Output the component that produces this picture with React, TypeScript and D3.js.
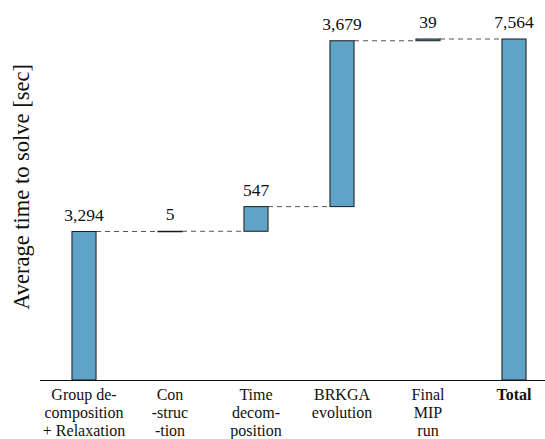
import React from "react";
import * as d3 from "d3";

const categories: string[][] = [
  ["Group de-", "composition", "+ Relaxation"],
  ["Con", "-struc", "-tion"],
  ["Time", "decom-", "position"],
  ["BRKGA", "evolution"],
  ["Final", "MIP", "run"],
  ["Total"],
];
const stepValues: number[] = [3294, 5, 547, 3679, 39];
const valueLabels: string[] = ["3,294", "5", "547", "3,679", "39", "7,564"];
const yLabel = "Average time to solve [sec]";

const W = 545;
const H = 439;
const FONT = "'Liberation Serif', serif";

export default function App() {
  const total = d3.sum(stepValues);
  let acc = 0;
  const bars = stepValues.map((v, i) => {
    const start = acc;
    acc += v;
    return { i, start, end: acc, total: false };
  });
  bars.push({ i: stepValues.length, start: 0, end: total, total: true });

  const x = d3
    .scaleBand<number>()
    .domain(d3.range(categories.length))
    .range([41, 557])
    .paddingInner(0.72)
    .paddingOuter(0.36);
  const y = d3.scaleLinear().domain([0, total]).range([380, 39]);
  const bw = x.bandwidth();
  const ts: React.CSSProperties = { fontFamily: FONT };

  return (
    <svg
      width={W}
      height={H}
      style={{ position: "absolute", left: 0, top: 0, background: "#fff" }}
    >
      {bars.slice(0, -1).map((b, k) => {
        const next = bars[k + 1];
        const yy = y(b.end);
        return (
          <line
            key={"d" + k}
            x1={(x(b.i) as number) + bw}
            x2={x(next.i) as number}
            y1={yy}
            y2={yy}
            stroke="#555"
            strokeWidth={1}
            strokeDasharray="5,4"
          />
        );
      })}
      {bars.map((b) => {
        const top = y(b.end);
        const bot = y(b.start);
        return (
          <rect
            key={"b" + b.i}
            x={x(b.i) as number}
            y={top}
            width={bw}
            height={Math.max(bot - top, 0.5)}
            fill="#5fa3c6"
            stroke="#1a1a1a"
            strokeWidth={1}
          />
        );
      })}
      {bars.map((b) => (
        <text
          key={"v" + b.i}
          x={(x(b.i) as number) + bw / 2}
          y={y(b.end) - 11}
          textAnchor="middle"
          fontSize={17.5}
          fill="#111"
          style={ts}
        >
          {valueLabels[b.i]}
        </text>
      ))}
      <line x1={40} x2={545} y1={380.5} y2={380.5} stroke="#111" strokeWidth={1.2} />
      {categories.map((lines, i) => (
        <text
          key={"c" + i}
          x={(x(i) as number) + bw / 2}
          textAnchor="middle"
          fontSize={16}
          fill="#111"
          fontWeight={i === categories.length - 1 ? "bold" : "normal"}
          style={ts}
        >
          {lines.map((l, j) => (
            <tspan key={j} x={(x(i) as number) + bw / 2} y={400 + j * 18}>
              {l}
            </tspan>
          ))}
        </text>
      ))}
      <text
        transform="translate(29,187) rotate(-90)"
        textAnchor="middle"
        fontSize={22.5}
        fill="#111"
        style={ts}
      >
        {yLabel}
      </text>
    </svg>
  );
}
